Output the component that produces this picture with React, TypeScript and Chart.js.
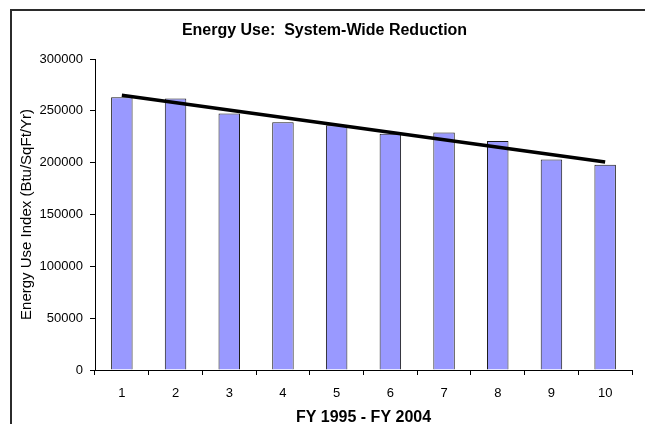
import React, { useEffect, useRef } from "react";
import { Chart, registerables } from "chart.js";

Chart.register(...registerables);

const categories = ["1", "2", "3", "4", "5", "6", "7", "8", "9", "10"];
const energyUse = [263000, 262000, 247500, 239000, 236000, 228000, 229000, 221000, 203000, 198000];
const trendLine = [265000, null, null, null, null, null, null, null, null, 200700];
const yMin = 0;
const yMax = 300000;
const yStep = 50000;

const FONT = "'Liberation Sans', Arial, sans-serif";

export default function App() {
  const ref = useRef<HTMLCanvasElement | null>(null);

  useEffect(() => {
    if (!ref.current) return;
    const chart = new Chart(ref.current, {
      type: "bar",
      data: {
        labels: categories,
        datasets: [
          {
            type: "line",
            data: trendLine,
            borderColor: "#000000",
            borderWidth: 3.5,
            pointRadius: 0,
            spanGaps: true,
            fill: false,
            order: 0,
          } as any,
          {
            type: "bar",
            data: energyUse,
            backgroundColor: "#9999FF",
            borderColor: "#1a1a1a",
            borderWidth: 1,
            barPercentage: 0.4,
            categoryPercentage: 1,
            order: 1,
          },
        ],
      },
      options: {
        responsive: false,
        animation: false,
        layout: { padding: { left: 17, right: 13, top: 0, bottom: 0 } },
        plugins: {
          legend: { display: false },
          tooltip: { enabled: false },
          title: {
            display: true,
            text: "Energy Use:  System-Wide Reduction",
            color: "#000",
            font: { family: FONT, size: 16, weight: "bold", lineHeight: 1.2 },
            padding: { top: 21, bottom: 18.8 },
          },
        },
        scales: {
          x: {
            grid: {
              display: true,
              drawOnChartArea: false,
              drawTicks: true,
              tickLength: 5,
              color: "#000",
              offset: true,
            },
            border: { display: true, color: "#000", width: 1 },
            ticks: {
              color: "#000",
              font: { family: FONT, size: 13, lineHeight: 1.2 },
              padding: 11,
              maxRotation: 0,
            },
            title: {
              display: true,
              text: "FY 1995 - FY 2004",
              color: "#000",
              font: { family: FONT, size: 16, weight: "bold", lineHeight: 0.8 },
              padding: { top: 0, bottom: 0 },
            },
            afterFit: (scale: any) => {
              scale.height = 54;
            },
          },
          y: {
            min: yMin,
            max: yMax,
            grid: {
              display: true,
              drawOnChartArea: false,
              drawTicks: true,
              tickLength: 5,
              color: "#000",
            },
            border: { display: true, color: "#000", width: 1 },
            ticks: {
              stepSize: yStep,
              color: "#000",
              font: { family: FONT, size: 13 },
              padding: 7,
              callback: (v: any) => String(v),
            },
            title: {
              display: true,
              text: "Energy Use Index (Btu/SqFt/Yr)",
              color: "#000",
              font: { family: FONT, size: 15, lineHeight: 1.2 },
              padding: { top: 1, bottom: 0 },
            },
            afterFit: (scale: any) => {
              scale.width = 78;
            },
          },
        },
      },
    });
    return () => chart.destroy();
  }, []);

  return (
    <div
      style={{
        position: "fixed",
        left: 0,
        top: 0,
        width: 645,
        height: 424,
        overflow: "hidden",
        background: "#fff",
      }}
    >
      <div
        style={{
          position: "absolute",
          left: 10,
          top: 9,
          width: 700,
          height: 500,
          border: "2px solid #2b2b2b",
          boxSizing: "border-box",
        }}
      />
      <canvas
        ref={ref}
        width={645}
        height={424}
        style={{ position: "absolute", left: 0, top: 0, width: 645, height: 424 }}
      />
    </div>
  );
}
